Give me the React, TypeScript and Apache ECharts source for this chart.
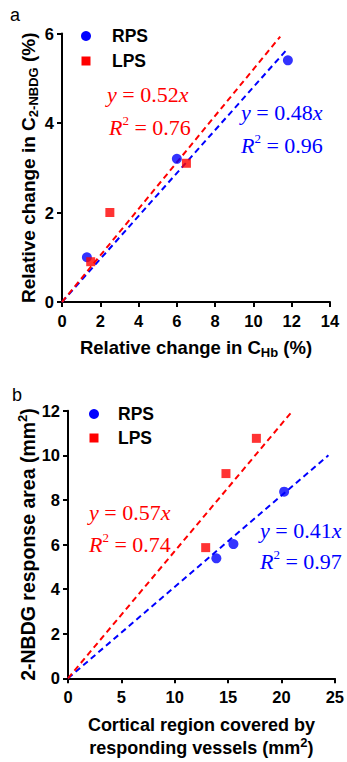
import React, { useEffect, useRef } from "react";
import * as echarts from "echarts";

// ---- Data ----
const aRPS: number[][] = [[1.3, 1.0], [6.0, 3.2], [11.8, 5.4]];
const aLPS: number[][] = [[1.5, 0.9], [2.5, 2.0], [6.5, 3.1]];
const aFitRPS: number[][] = [[0, 0], [11.7, 5.62]];
const aFitLPS: number[][] = [[0, 0], [11.4, 5.93]];

const bRPS: number[][] = [[13.9, 5.38], [15.5, 6.02], [20.25, 8.37]];
const bLPS: number[][] = [[12.9, 5.86], [14.8, 9.18], [17.65, 10.76]];
const bFitRPS: number[][] = [[0, 0], [24.4, 10.0]];
const bFitLPS: number[][] = [[0, 0], [21.0, 11.97]];

const seriesNames = ["RPS", "LPS"];
const eqA = { lps: ["0.52", "0.76"], rps: ["0.48", "0.96"] };
const eqB = { lps: ["0.57", "0.74"], rps: ["0.41", "0.97"] };

const BLUE = "#0000ff";
const RED = "#ff0000";
const SANS = "Liberation Sans";
const SERIF = "Liberation Serif";

function axis(grid: number, min: number, max: number, interval: number, margin: number, extra: any) {
  return {
    type: "value",
    gridIndex: grid,
    min,
    max,
    interval,
    axisLine: { show: true, onZero: false, lineStyle: { color: "#000", width: 2 } },
    axisTick: { show: true, length: 5, lineStyle: { color: "#000", width: 2 } },
    axisLabel: { color: "#000", fontWeight: "bold", fontSize: 16.5, fontFamily: SANS, margin },
    splitLine: { show: false },
    nameLocation: "middle",
    nameMoveOverlap: false,
    ...extra,
  };
}

const nameStyle = (fs: number, lh: number) => ({
  color: "#000",
  fontWeight: "bold",
  fontSize: fs,
  fontFamily: SANS,
  lineHeight: lh,
  rich: {
    sub: { fontSize: 13, fontWeight: "bold", fontFamily: SANS, color: "#000", lineHeight: 12, verticalAlign: "bottom" },
    sup: { fontSize: 13, fontWeight: "bold", fontFamily: SANS, color: "#000", lineHeight: 12, verticalAlign: "top" },
  },
});

function eqText(x: number, y: number, text: string, color: string) {
  return {
    type: "text",
    x,
    y,
    style: {
      text,
      fill: color,
      fontSize: 22,
      fontFamily: SERIF,
      lineHeight: 26,
      verticalAlign: "middle",
      rich: {
        i: { fontStyle: "italic", fontSize: 22, fontFamily: SERIF, fill: color, lineHeight: 26 },
        sup: { fontSize: 13, fontFamily: SERIF, fill: color, lineHeight: 13, verticalAlign: "top" },
      },
    },
  };
}

function legendGroup(cx: number, cy1: number, cy2: number, tx: number) {
  const ts = { fill: "#000", fontSize: 17.5, fontWeight: "bold", fontFamily: SANS, verticalAlign: "middle" };
  return [
    { type: "circle", shape: { cx, cy: cy1, r: 5 }, style: { fill: BLUE } },
    { type: "rect", shape: { x: cx - 4.5, y: cy2 - 4.5, width: 9, height: 9 }, style: { fill: RED } },
    { type: "text", x: tx, y: cy1, style: { text: seriesNames[0], ...ts } },
    { type: "text", x: tx, y: cy2, style: { text: seriesNames[1], ...ts } },
  ];
}

export default function App() {
  const ref = useRef<HTMLDivElement>(null);
  useEffect(() => {
    if (!ref.current) return;
    const chart = echarts.init(ref.current, undefined, { renderer: "svg" });
    const dash = [6, 4];
    const option: any = {
      animation: false,
      backgroundColor: "#fff",
      grid: [
        { left: 62, top: 33.5, width: 268, height: 268.5 },
        { left: 68, top: 410.7, width: 268.7, height: 267.6 },
      ],
      xAxis: [
        axis(0, 0, 14, 2, 10, { name: "Relative change in C{sub|Hb} (%)", nameGap: 33, nameTextStyle: nameStyle(18.5, 24) }),
        axis(1, 0, 25, 5, 10, {
          name: "Cortical region covered by\nresponding vessels (mm{sup|2})",
          nameGap: 35,
          nameTextStyle: nameStyle(18, 23),
        }),
      ],
      yAxis: [
        axis(0, 0, 6, 2, 8, {
          name: "Relative change in C{sub|2-NBDG} (%)",
          nameRotate: 90,
          nameGap: 22,
          nameTextStyle: nameStyle(19, 24),
        }),
        axis(1, 0, 12, 2, 8, {
          name: "2-NBDG response area (mm{sup|2})",
          nameRotate: 90,
          nameGap: 28,
          nameTextStyle: nameStyle(19.5, 24),
        }),
      ],
      series: [
        { name: "RPS fit", type: "line", xAxisIndex: 0, yAxisIndex: 0, data: aFitRPS, symbol: "none", lineStyle: { color: BLUE, width: 2, type: dash }, z: 2 },
        { name: "LPS fit", type: "line", xAxisIndex: 0, yAxisIndex: 0, data: aFitLPS, symbol: "none", lineStyle: { color: RED, width: 2, type: dash }, z: 2 },
        { name: "RPS", type: "scatter", xAxisIndex: 0, yAxisIndex: 0, data: aRPS, symbol: "circle", symbolSize: 10, itemStyle: { color: BLUE }, z: 3 },
        { name: "LPS", type: "scatter", xAxisIndex: 0, yAxisIndex: 0, data: aLPS, symbol: "rect", symbolSize: 9, itemStyle: { color: RED }, z: 3 },
        { name: "RPS fit b", type: "line", xAxisIndex: 1, yAxisIndex: 1, data: bFitRPS, symbol: "none", lineStyle: { color: BLUE, width: 2, type: dash }, z: 2 },
        { name: "LPS fit b", type: "line", xAxisIndex: 1, yAxisIndex: 1, data: bFitLPS, symbol: "none", lineStyle: { color: RED, width: 2, type: dash }, z: 2 },
        { name: "RPS", type: "scatter", xAxisIndex: 1, yAxisIndex: 1, data: bRPS, symbol: "circle", symbolSize: 10, itemStyle: { color: BLUE }, z: 3 },
        { name: "LPS", type: "scatter", xAxisIndex: 1, yAxisIndex: 1, data: bLPS, symbol: "rect", symbolSize: 9, itemStyle: { color: RED }, z: 3 },
      ],
      graphic: [
        { type: "text", x: 10, y: 15, style: { text: "a", fill: "#000", fontSize: 18, fontFamily: SANS, verticalAlign: "middle" } },
        { type: "text", x: 12, y: 395, style: { text: "b", fill: "#000", fontSize: 18, fontFamily: SANS, verticalAlign: "middle" } },
        ...legendGroup(86, 36, 61, 112),
        ...legendGroup(94, 414, 438, 118),
        eqText(107, 94, `{i|y} = ${eqA.lps[0]}{i|x}`, RED),
        eqText(109, 127, `{i|R}{sup|2} = ${eqA.lps[1]}`, RED),
        eqText(241, 112, `{i|y} = ${eqA.rps[0]}{i|x}`, BLUE),
        eqText(241, 145, `{i|R}{sup|2} = ${eqA.rps[1]}`, BLUE),
        eqText(89, 512, `{i|y} = ${eqB.lps[0]}{i|x}`, RED),
        eqText(89, 544, `{i|R}{sup|2} = ${eqB.lps[1]}`, RED),
        eqText(260, 530, `{i|y} = ${eqB.rps[0]}{i|x}`, BLUE),
        eqText(260, 561, `{i|R}{sup|2} = ${eqB.rps[1]}`, BLUE),
      ],
    };
    chart.setOption(option);
    return () => chart.dispose();
  }, []);
  return <div ref={ref} style={{ position: "absolute", left: 0, top: 0, width: 347, height: 762, background: "#fff" }} />;
}
